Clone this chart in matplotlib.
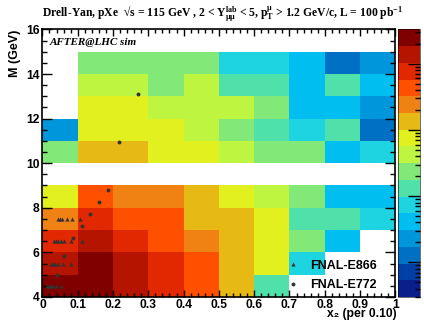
import numpy as np
import matplotlib
matplotlib.use('Agg')
import matplotlib.pyplot as plt
from matplotlib.colors import ListedColormap, LogNorm
from matplotlib.lines import Line2D
from matplotlib.ticker import MultipleLocator, LogLocator, NullFormatter

plt.rcParams['font.family'] = ['Liberation Sans', 'DejaVu Sans']
plt.rcParams['font.weight'] = 'bold'
plt.rcParams['mathtext.fontset'] = 'custom'
plt.rcParams['mathtext.rm'] = 'Liberation Serif:bold'
plt.rcParams['mathtext.it'] = 'Liberation Serif:bold'
plt.rcParams['mathtext.bf'] = 'Liberation Serif:bold'
plt.rcParams['mathtext.default'] = 'rm'

# bin edges
x_edges = np.arange(0, 1.01, 0.1)
m_edges = np.arange(4, 16, 1)

nan = np.nan
# counts per bin, rows = M 4-5 ... 14-15, columns = x2 0-0.1 ... 0.9-1.0
counts = np.array([
    [2600, 2350, 1300, 720, 410, 150, 14, nan, nan, nan],
    [1500, 2100, 1250, 800, 450, 125, 70, 7.5, nan, nan],
    [820, 1400, 760, 420, 250, 140, 78, 22, 4.0, nan],
    [230, 690, 470, 390, 150, 120, 68, 12, 11, 7.0],
    [80, 400, 260, 220, 130, 72, 45, 25, 4.5, 3.9],
    [nan] * 10,
    [26, 130, 120, 70, 65, 40, 24, 21, 4.2, 7.4],
    [2.4, 80, 72, 66, 45, 27, 14, 8.0, 12, 1.4],
    [nan, 75, 68, 44, 40, 38, 22, 4.4, 4.0, 2.2],
    [nan, 44, 40, 23, 42, 13, 12, 4.3, 14, 4.8],
    [nan, 25, 24, 22, 23, 7.5, 7.0, 4.2, 1.5, 2.5],
])

# FNAL-E866 points
e866_x = [0.045, 0.050, 0.056, 0.069, 0.084, 0.107,
          0.033, 0.038, 0.045, 0.052, 0.062, 0.081, 0.113,
          0.024, 0.029, 0.035, 0.045, 0.057, 0.080,
          0.014, 0.018, 0.024, 0.031, 0.038, 0.054]
e866_m = [7.5] * 6 + [6.5] * 7 + [5.5] * 6 + [4.5] * 6

# FNAL-E772 points
e772_x = [0.186, 0.161, 0.135, 0.111, 0.087, 0.062, 0.040, 0.270, 0.217]
e772_m = [8.78, 8.25, 7.71, 7.17, 6.63, 5.84, 4.99, 13.12, 10.94]

palette = ['#0a1e8c', '#003fa5', '#0070c4', '#0096dc', '#00bef0', '#1ed4e0',
           '#50e0aa', '#82e878', '#bef541', '#e1f01e', '#e6b914', '#f08214',
           '#ff5000', '#e12800', '#b41400', '#800000']
cmap = ListedColormap(palette)
norm = LogNorm(vmin=0.3, vmax=3300)

fig = plt.figure(figsize=(4.24, 3.2), dpi=100)
ax = fig.add_axes([0.1, 0.072, 0.8325, 0.836])
cax = fig.add_axes([0.9387, 0.072, 0.052, 0.836])

mesh = ax.pcolormesh(x_edges, m_edges, np.ma.masked_invalid(counts), cmap=cmap, norm=norm)

ax.plot(e866_x, e866_m, ls='none', marker='^', ms=3, color='#333333', mec='none')
ax.plot(e772_x, e772_m, ls='none', marker='o', ms=2.8, color='#333333', mec='none')

ax.set_xlim(0, 1)
ax.set_ylim(4, 16)
ax.xaxis.set_major_locator(MultipleLocator(0.1))
ax.xaxis.set_minor_locator(MultipleLocator(0.02))
ax.yaxis.set_major_locator(MultipleLocator(2))
ax.yaxis.set_minor_locator(MultipleLocator(0.5))
ax.set_xticks(np.arange(0, 1.01, 0.1))
ax.set_xticklabels(['0', '0.1', '0.2', '0.3', '0.4', '0.5', '0.6', '0.7', '0.8', '0.9', '1'])
ax.tick_params(axis='both', which='both', direction='in', top=True, right=True,
               labelsize=8.7, width=1)
ax.tick_params(axis='x', which='major', length=5, pad=1.5)
ax.tick_params(axis='x', which='minor', length=2.8)
ax.tick_params(axis='y', which='major', length=7.5, pad=2)
ax.tick_params(axis='y', which='minor', length=3.7)
for s in ax.spines.values():
    s.set_linewidth(1.2)

cb = fig.colorbar(mesh, cax=cax)
cb.outline.set_linewidth(0.4)
cax.yaxis.set_major_locator(LogLocator(base=10))
cax.yaxis.set_minor_locator(LogLocator(base=10, subs=np.arange(2, 10)))
cax.yaxis.set_major_formatter(NullFormatter())
cax.yaxis.set_minor_formatter(NullFormatter())
cax.tick_params(which='both', direction='in', right=True, left=False, width=1)
cax.tick_params(which='major', length=8.5)
cax.tick_params(which='minor', length=3.6)

handles = [Line2D([], [], ls='none', marker='^', ms=3, color='#333333', mec='none'),
           Line2D([], [], ls='none', marker='o', ms=2.8, color='#333333', mec='none')]
ax.legend(handles, ['FNAL-E866', 'FNAL-E772'], loc='lower left',
          bbox_to_anchor=(0.66, -0.02), frameon=False,
          prop={'family': 'Liberation Sans', 'weight': 'bold', 'size': 9},
          handlelength=1.0, handletextpad=0.9, labelspacing=0.6)

ax.text(0.021, 0.951, 'AFTER@LHC sim', transform=ax.transAxes, ha='left', va='center',
        family='Liberation Serif', weight='bold', style='italic', fontsize=8)

fig.text(15 / 424, 1 - 30 / 320, 'M (GeV)', rotation=90, ha='center', va='top',
         fontsize=9, weight='bold')
fig.text(397 / 424, 0, 'x\u2082 (per 0.10)', ha='right', va='bottom',
         fontsize=8.7, weight='bold')

fig.text(42 / 424, 1 - 14 / 320,
         'Drell-Yan, pXe  \u221as = 115 GeV , 2 < Y$^{lab}_{\u03bc\u03bc}$ < 5, '
         'p$^{\u03bc}_{T}$ > 1.2 GeV/c, L = 100 pb$^{-1}$',
         ha='left', va='center', family='Liberation Serif', weight='bold', fontsize=8.4)

fig.savefig('out.png', dpi=100)
